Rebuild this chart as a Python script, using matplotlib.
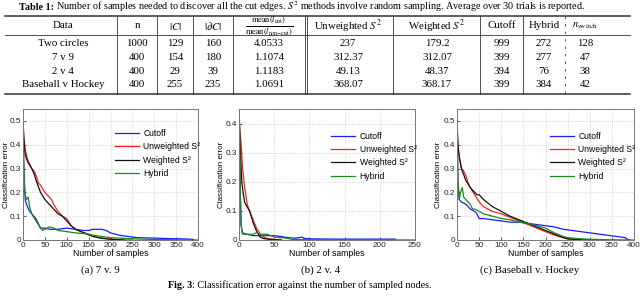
import matplotlib
matplotlib.use("Agg")
import matplotlib.pyplot as plt
from matplotlib.lines import Line2D

plt.rcParams['mathtext.fontset'] = 'stix'

# ---- table data ----
table_header = ["Data", "n", r"$|C|$", r"$|\partial C|$",
                r"$\frac{\mathrm{mean}(l_{\mathrm{cut}})}{\mathrm{mean}(l_{\mathrm{non}\mathrm{-}\mathrm{cut}})}$",
                r"Unweighted $S^2$", r"Weighted $S^2$", "Cutoff", "Hybrid", r"$n_{\mathrm{switch}}$"]
data_names = ["Two circles", "7 v 9", "2 v 4", "Baseball v Hockey"]
n_nodes = ["1000", "400", "400", "400"]
size_C = ["129", "154", "29", "255"]
size_dC = ["160", "180", "39", "235"]
len_ratio = ["4.0533", "1.1074", "1.1183", "1.0691"]
unweighted_s2 = ["237", "312.37", "49.13", "368.07"]
weighted_s2 = ["179.2", "312.07", "48.37", "368.17"]
cutoff = ["999", "399", "394", "399"]
hybrid = ["272", "277", "76", "384"]
n_switch = ["128", "47", "38", "42"]

# ---- panel (a) 7 v. 9 ----
a_cut_x = [0, 2, 5, 8, 15, 20, 30, 40, 50, 60, 80, 100, 120, 140, 150, 160, 170, 180, 190, 200, 220, 240, 260, 300, 330, 360, 388, 390]
a_cut_y = [0.5, 0.3, 0.17, 0.15, 0.12, 0.11, 0.08, 0.05, 0.05, 0.045, 0.045, 0.05, 0.045, 0.04, 0.04, 0.045, 0.045, 0.045, 0.04, 0.03, 0.02, 0.015, 0.01, 0.008, 0.006, 0.005, 0.003, 0.0]
a_unw_x = [0, 2, 5, 10, 15, 20, 25, 30, 35, 40, 50, 60, 65, 70, 80, 90, 100, 110, 120, 140, 160, 180, 200, 220, 250]
a_unw_y = [0.5, 0.43, 0.38, 0.34, 0.32, 0.30, 0.29, 0.27, 0.24, 0.23, 0.20, 0.18, 0.17, 0.15, 0.12, 0.10, 0.09, 0.06, 0.045, 0.03, 0.015, 0.008, 0.004, 0.001, 0.0]
a_wei_x = [0, 2, 5, 10, 20, 25, 30, 40, 50, 60, 70, 80, 90, 100, 110, 120, 140, 160, 180, 200, 230]
a_wei_y = [0.5, 0.42, 0.36, 0.33, 0.30, 0.28, 0.25, 0.20, 0.17, 0.15, 0.13, 0.11, 0.10, 0.08, 0.06, 0.045, 0.03, 0.015, 0.007, 0.003, 0.0]
a_hyb_x = [0, 2, 4, 8, 12, 15, 20, 30, 40, 45, 55, 60, 70, 80, 100, 120, 150, 160, 180, 200, 250, 300, 400]
a_hyb_y = [0.5, 0.3, 0.2, 0.17, 0.18, 0.14, 0.11, 0.09, 0.05, 0.04, 0.05, 0.055, 0.05, 0.04, 0.035, 0.03, 0.025, 0.02, 0.015, 0.01, 0.005, 0.002, 0.0]

# ---- panel (b) 2 v. 4 ----
b_cut_x = [0, 1, 2, 3, 5, 10, 20, 30, 40, 50, 60, 65, 70, 80, 85, 90, 92, 100, 140, 200, 222, 223]
b_cut_y = [0.45, 0.3, 0.15, 0.05, 0.025, 0.02, 0.015, 0.015, 0.015, 0.015, 0.012, 0.01, 0.008, 0.006, 0.008, 0.01, 0.006, 0.004, 0.003, 0.003, 0.003, 0.0]
b_unw_x = [0, 1, 3, 5, 8, 10, 12, 15, 20, 25, 28, 30, 35, 40, 50, 60]
b_unw_y = [0.45, 0.38, 0.33, 0.25, 0.18, 0.15, 0.12, 0.10, 0.07, 0.04, 0.03, 0.02, 0.01, 0.005, 0.002, 0.0]
b_wei_x = [0, 2, 4, 6, 8, 10, 15, 20, 25, 30, 35, 45, 60]
b_wei_y = [0.45, 0.30, 0.20, 0.16, 0.13, 0.12, 0.10, 0.06, 0.03, 0.01, 0.005, 0.002, 0.0]
b_hyb_x = [0, 1, 2, 3, 5, 10, 20, 25, 30, 40, 50, 60, 70, 75, 100, 250]
b_hyb_y = [0.45, 0.35, 0.15, 0.05, 0.02, 0.02, 0.02, 0.025, 0.02, 0.02, 0.01, 0.008, 0.005, 0.002, 0.001, 0.0]

# ---- panel (c) Baseball v. Hockey ----
c_cut_x = [0, 2, 5, 10, 20, 30, 40, 45, 50, 60, 80, 100, 120, 140, 160, 180, 200, 220, 240, 260, 280, 300, 320, 340, 360, 380, 385, 390]
c_cut_y = [0.5, 0.25, 0.17, 0.16, 0.15, 0.13, 0.12, 0.11, 0.09, 0.09, 0.085, 0.08, 0.075, 0.075, 0.07, 0.065, 0.06, 0.055, 0.045, 0.04, 0.035, 0.03, 0.025, 0.02, 0.015, 0.01, 0.003, 0.0]
c_unw_x = [0, 2, 5, 10, 15, 20, 25, 30, 40, 50, 60, 80, 100, 120, 140, 160, 180, 200, 220, 240, 250, 270, 300]
c_unw_y = [0.5, 0.4, 0.35, 0.30, 0.29, 0.27, 0.24, 0.22, 0.19, 0.16, 0.14, 0.12, 0.11, 0.095, 0.08, 0.065, 0.05, 0.035, 0.02, 0.01, 0.005, 0.002, 0.0]
c_wei_x = [0, 2, 5, 10, 20, 30, 40, 45, 50, 60, 80, 100, 120, 140, 160, 180, 200, 220, 240, 250, 270, 300]
c_wei_y = [0.5, 0.4, 0.35, 0.30, 0.25, 0.22, 0.20, 0.19, 0.19, 0.17, 0.14, 0.12, 0.10, 0.085, 0.07, 0.055, 0.04, 0.025, 0.01, 0.005, 0.002, 0.0]
c_hyb_x = [0, 2, 5, 8, 12, 15, 20, 30, 35, 40, 50, 60, 80, 90, 100, 120, 140, 160, 180, 200, 220, 240, 250, 280, 300, 350, 400]
c_hyb_y = [0.5, 0.25, 0.17, 0.2, 0.22, 0.18, 0.17, 0.15, 0.13, 0.13, 0.12, 0.11, 0.10, 0.095, 0.09, 0.085, 0.075, 0.07, 0.06, 0.05, 0.03, 0.015, 0.01, 0.005, 0.003, 0.001, 0.0]

W, H = 640, 297
fig = plt.figure(figsize=(W / 100, H / 100), dpi=100)
renderer = fig.canvas.get_renderer()


def fx(x):
    return x / W


def fy(y):
    return 1 - y / H


def text_pair(x, y, bold_part, rest, fs):
    # bold label followed directly by normal text
    t = fig.text(fx(x), fy(y), bold_part, fontsize=fs, family=serif, weight='bold', va='center')
    w = t.get_window_extent(renderer).width
    fig.text(fx(x + w), fy(y), rest, fontsize=fs, family=serif, va='center')


serif = ['Liberation Serif', 'DejaVu Serif']
sans = ['Liberation Sans', 'DejaVu Sans']

# ---- table caption ----
text_pair(19, 7, "Table 1:", r" Number of samples needed to discover all the cut edges. $S^2$ methods involve random sampling. Average over 30 trials is reported.", 7.3)

# ---- table ----
col_x = [63, 137, 175, 213, 269, 348, 437, 502, 544, 585]
row_y = [43, 57, 71, 85]
tab_top, tab_head, tab_bot = 16, 35, 94
tab_left, tab_right = 5, 630

fig.add_artist(Line2D([fx(tab_left), fx(tab_right)], [fy(tab_top)] * 2, color='#333333', lw=1.1))
fig.add_artist(Line2D([fx(tab_left), fx(tab_right)], [fy(tab_head)] * 2, color='#333333', lw=0.6))
fig.add_artist(Line2D([fx(tab_left), fx(tab_right)], [fy(tab_bot)] * 2, color='#333333', lw=1.1))
for vx in [117, 157, 193, 233, 304.5, 307, 393, 480, 523]:
    fig.add_artist(Line2D([fx(vx)] * 2, [fy(tab_top), fy(tab_bot)], color='#333333', lw=0.6))
fig.add_artist(Line2D([fx(565)] * 2, [fy(tab_top), fy(tab_bot)], color='#333333', lw=0.6, ls=(0, (3, 6))))

for i, h in enumerate(table_header):
    fs = 8.6 if i == 4 else (7.4 if i == 9 else 7.8)
    fig.text(fx(col_x[i]), fy(26), h, fontsize=fs, family=serif, ha='center', va='center')

columns = [data_names, n_nodes, size_C, size_dC, len_ratio, unweighted_s2, weighted_s2, cutoff, hybrid, n_switch]
for c, col in enumerate(columns):
    for r, val in enumerate(col):
        fig.text(fx(col_x[c]), fy(row_y[r]), val, fontsize=7.8, family=serif, ha='center', va='center')

# ---- plots ----
panels = [
    dict(box=(23, 198), xmax=400, ymax=0.55, xt=range(0, 401, 50), yt=[0, 0.1, 0.2, 0.3, 0.4, 0.5],
         series=[(a_cut_x, a_cut_y), (a_unw_x, a_unw_y), (a_wei_x, a_wei_y), (a_hyb_x, a_hyb_y)],
         cap="(a) 7 v. 9", capx=100, leg=(0.50, 0.88), ylab_x=10.5),
    dict(box=(239, 415), xmax=250, ymax=0.45, xt=range(0, 251, 50), yt=[0, 0.1, 0.2, 0.3, 0.4],
         series=[(b_cut_x, b_cut_y), (b_unw_x, b_unw_y), (b_wei_x, b_wei_y), (b_hyb_x, b_hyb_y)],
         cap="(b) 2 v. 4", capx=321, leg=(0.50, 0.86), ylab_x=225),
    dict(box=(457, 634), xmax=400, ymax=0.55, xt=range(0, 401, 50), yt=[0, 0.1, 0.2, 0.3, 0.4, 0.5],
         series=[(c_cut_x, c_cut_y), (c_unw_x, c_unw_y), (c_wei_x, c_wei_y), (c_hyb_x, c_hyb_y)],
         cap="(c) Baseball v. Hockey", capx=530, leg=(0.50, 0.86), ylab_x=442),
]
labels = ["Cutoff", "Unweighted S²", "Weighted S²", "Hybrid"]
colors = ['#1a1aff', '#ff2020', '#111111', '#1a8a1a']
ax_top, ax_bot = 109, 240

for p in panels:
    x0, x1 = p['box']
    ax = fig.add_axes([fx(x0), fy(ax_bot), (x1 - x0) / W, (ax_bot - ax_top) / H])
    for (xs, ys), lab, col in zip(p['series'], labels, colors):
        ax.plot(xs, ys, color=col, lw=0.9, label=lab)
    ax.set_xlim(0, p['xmax'])
    ax.set_ylim(0, p['ymax'])
    ax.set_xticks(list(p['xt']))
    ax.set_yticks(p['yt'])
    ax.set_yticklabels(["0" if v == 0 else f"{v:g}" for v in p['yt']])
    ax.grid(True, ls=':', color='#c8c8c8', lw=0.6)
    ax.tick_params(direction='in', length=2, width=0.5, labelsize=5.9, pad=1.2, colors='#222222')
    for sp in ax.spines.values():
        sp.set_color('#777777')
        sp.set_linewidth(0.7)
    ax.set_xlabel("Number of samples", fontsize=6.2, family=sans, labelpad=0.5)
    ax.set_ylabel("Classification error", fontsize=5.8, family=sans)
    ax.yaxis.set_label_coords(-(x0 - p['ylab_x']) / (x1 - x0), 0.5)
    for t in ax.get_xticklabels() + ax.get_yticklabels():
        t.set_family(sans)
    ax.legend(loc='upper left', bbox_to_anchor=p['leg'], frameon=False,
              handlelength=2.8, labelspacing=0.5, borderpad=0, handletextpad=0.5,
              prop={'family': sans, 'size': 6.2})
    fig.text(fx(p['capx']), fy(270), p['cap'], fontsize=7.8, family=serif, ha='center', va='center')

text_pair(168, 285, "Fig. 3", ": Classification error against the number of sampled nodes.", 7.3)

fig.savefig("out.png", dpi=100)
